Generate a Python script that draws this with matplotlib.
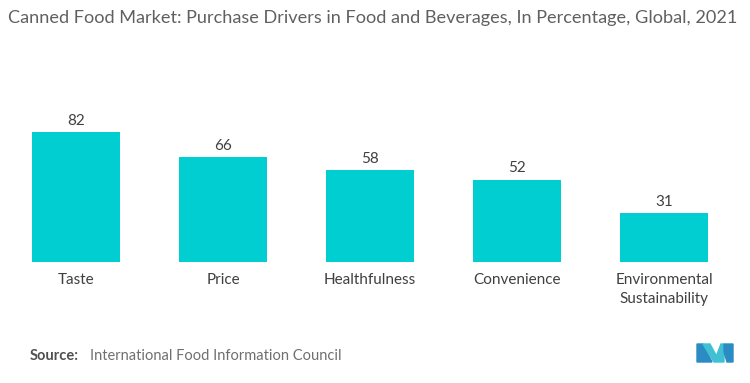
import matplotlib
matplotlib.use("Agg")
import matplotlib.pyplot as plt
from matplotlib.patches import Polygon

categories = ["Taste", "Price", "Healthfulness", "Convenience", "Environmental\nSustainability"]
values = [82, 66, 58, 52, 31]

plt.rcParams['font.family'] = ['Lato', 'DejaVu Sans']

fig = plt.figure(figsize=(7.5, 3.83), dpi=100)
ax = fig.add_axes([2.5/750, (383-262)/383, 735/750, 158.5/383])
bars = ax.bar(range(len(values)), values, width=0.6, color="#00CED1")
ax.set_xlim(-0.5, len(values)-0.5)
ax.set_ylim(0, 100)
for i, v in enumerate(values):
    ax.text(i, v + 2.6, str(v), ha="center", va="bottom", fontsize=11, color="#404040")
ax.set_xticks(range(len(values)))
ax.set_xticklabels(categories, fontsize=11, color="#404040", linespacing=1.45)
ax.tick_params(axis="x", length=0, pad=8)
ax.set_yticks([])
for s in ax.spines.values():
    s.set_visible(False)

fig.text(8/750, 1 - 18/383, "Canned Food Market: Purchase Drivers in Food and Beverages, In Percentage, Global, 2021",
         fontsize=13.1, color="#606060", ha="left", va="center")
fig.text(30/750, 1 - 356/383, "Source:", fontsize=10.5, color="#505050", fontweight="bold", ha="left", va="center")
fig.text(90/750, 1 - 356/383, "International Food Information Council", fontsize=10.5, color="#707070", ha="left", va="center")

# logo
def P(pts, c):
    fig.patches.append(Polygon([(x/750, 1 - y/383) for x, y in pts], closed=True,
                               transform=fig.transFigure, color=c))
P([(697, 362), (697, 344), (703, 344), (712, 362)], "#2B8CC4")
P([(703, 344), (710, 344), (717, 357), (714, 362)], "#3FC1D3")
P([(714, 362), (721, 344), (724, 344), (724, 362)], "#3FC1D3")
P([(724, 344), (733, 344), (733, 362), (727, 362), (724, 352)], "#2B8CC4")

fig.savefig("out.png", dpi=100)
